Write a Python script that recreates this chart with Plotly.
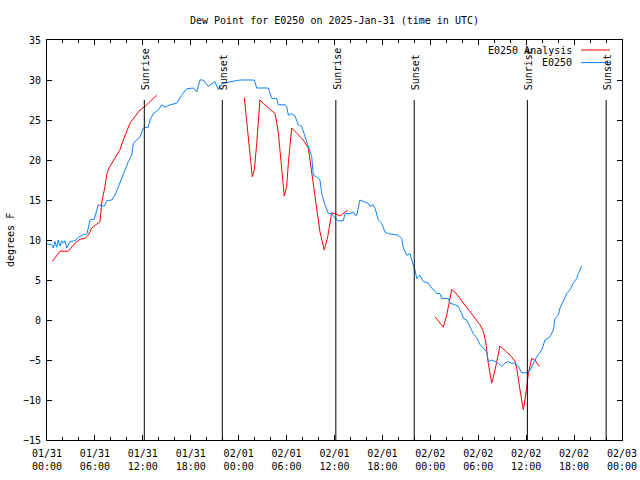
import pandas as pd
import plotly.graph_objects as go

BASE = pd.Timestamp("2025-01-31 00:00")

# E0250 observations: hours after 01/31 00:00 UTC, dew point (F)
obs_hours = [0.0, 0.59, 0.79, 1.0, 1.21, 1.41, 1.63, 1.84, 2.04, 2.25, 2.47, 2.88, 3.51, 3.92,
             4.55, 4.97, 5.17, 5.38, 5.92, 6.22, 6.42, 6.85, 7.18, 7.48, 8.1, 8.51, 8.93, 9.35,
             9.77, 10.18, 10.61, 10.81, 11.65, 12.06, 12.68, 12.9, 13.31, 13.94, 14.36, 14.78,
             15.4, 16.24, 16.87, 17.49, 18.32, 18.75, 19.16, 19.57, 20.2, 21.04, 21.45, 22.0,
             23.33, 24.17, 25.96, 26.26, 27.71, 28.14, 28.76, 28.96, 29.8, 30.01, 30.22, 30.64,
             31.05, 31.47, 31.89, 32.31, 32.72, 33.15, 33.35, 33.77, 34.18, 34.4, 34.81, 35.22,
             35.65, 36.06, 36.48, 37.1, 37.32, 37.94, 38.35, 38.57, 38.78, 39.19, 39.61, 40.23,
             40.45, 40.86, 41.07, 41.49, 41.91, 42.32, 42.74, 43.99, 44.42, 44.62, 45.04, 45.45,
             45.67, 46.08, 46.29, 46.71, 47.12, 47.75, 48.17, 48.8, 49.21, 49.42, 50.25, 50.46,
             51.09, 51.5, 51.93, 52.13, 52.55, 52.97, 53.38, 53.81, 54.22, 54.63, 55.06, 55.26,
             55.68, 56.1, 56.51, 56.94, 57.35, 57.77, 58.19, 58.6, 59.02, 59.44, 60.07, 60.48,
             60.89, 61.32, 61.95, 62.36, 62.99, 63.4, 63.61, 64.03, 64.24, 64.65, 65.08, 65.49,
             65.9, 66.33, 66.53, 66.95]
obs_values = [9.5, 9.4, 9.0, 9.8, 9.1, 10.0, 9.25, 9.9, 9.6, 9.9, 9.0, 9.8, 9.9, 10.3,
              10.7, 10.7, 11.5, 12.5, 12.6, 13.75, 14.4, 14.25, 14.25, 14.9, 15.0, 15.6, 16.7, 17.9,
              18.75, 19.8, 20.6, 22.1, 22.9, 24.0, 24.1, 25.0, 25.8, 26.25, 26.9, 26.6,
              26.9, 27.1, 28.1, 28.9, 29.0, 28.5, 30.0, 30.0, 29.2, 29.8, 28.8, 29.6,
              29.8, 30.0, 30.0, 29.0, 29.0, 27.7, 27.7, 26.9, 26.9, 26.7, 25.6, 25.8,
              25.5, 24.4, 24.2, 22.9, 21.9, 20.4, 18.1, 17.9, 17.5, 15.8, 14.4, 13.3,
              13.3, 12.7, 12.4, 12.4, 13.3, 13.3, 13.5, 13.1, 13.1, 15.0, 14.8, 14.6,
              14.2, 14.4, 14.0, 12.5, 12.1, 11.0, 10.8, 10.6, 10.2, 9.0, 8.1, 8.3,
              7.5, 6.25, 5.2, 5.6, 4.8, 4.6, 4.0, 3.3, 3.3, 2.7, 2.7, 2.1,
              1.9, 1.7, 0.8, 0.2, 0.0, -0.8, -1.7, -2.2, -3.1, -3.5, -4.0, -5.2,
              -5.0, -5.2, -5.4, -5.8, -5.4, -5.2, -5.4, -5.4, -5.8, -6.6, -6.6, -6.3,
              -5.4, -4.6, -3.75, -2.5, -2.1, -1.25, 0.2, 0.6, 1.5, 2.3, 3.3, 3.75,
              4.6, 5.2, 5.8, 6.75]

# E0250 Analysis: three separate runs
ana1_hours = [0.66, 1.63, 2.67, 3.51, 4.13, 4.76, 5.17, 5.6, 6.64, 6.85, 7.26, 7.48, 7.76,
              8.3, 8.73, 9.14, 9.55, 10.39, 10.81, 11.65, 12.27, 12.9, 13.74]
ana1_values = [7.3, 8.6, 8.6, 9.6, 10.1, 10.2, 10.6, 11.5, 12.3, 14.6, 16.7, 18.2, 19.0,
               19.8, 20.6, 21.3, 22.5, 24.6, 25.2, 26.25, 26.7, 27.3, 28.1]
ana2_hours = [24.71, 25.21, 25.51, 25.71, 25.96, 26.26, 26.67, 27.51, 28.55, 28.96, 29.39,
              29.71, 30.01, 30.22, 30.64, 31.47, 32.1, 32.72, 32.93, 33.35, 33.77, 34.18,
              34.72, 35.15, 35.65, 36.06, 36.69, 37.1, 37.65]
ana2_values = [27.8, 23.3, 19.8, 17.9, 18.75, 22.1, 27.5, 26.7, 25.8, 23.5, 19.2,
               15.5, 16.7, 19.6, 24.0, 23.1, 22.5, 21.5, 20.0, 16.7, 13.3, 11.0,
               8.75, 10.4, 13.4, 13.3, 13.0, 13.3, 13.75]
ana3_hours = [48.59, 49.62, 50.05, 50.68, 51.09, 51.72, 52.35, 53.18, 53.81, 54.22, 54.63,
              54.93, 55.26, 55.68, 56.1, 56.51, 56.72, 57.56, 58.19, 58.6, 58.81, 59.23,
              59.64, 59.85, 60.07, 60.28, 60.69, 61.1, 61.64]
ana3_values = [0.4, -0.9, 0.6, 3.8, 3.5, 2.7, 1.9, 0.8, 0.0, -0.6, -1.4,
               -2.7, -5.4, -7.9, -6.25, -4.2, -3.25, -4.0, -4.6, -5.2, -6.0, -8.75,
               -11.2, -10.0, -8.3, -6.7, -4.8, -5.0, -5.8]

sun_times = ["2025-01-31 12:11", "2025-01-31 21:57", "2025-02-01 12:10",
             "2025-02-01 21:59", "2025-02-02 12:09", "2025-02-02 22:01"]
sun_labels = ["Sunrise", "Sunset", "Sunrise", "Sunset", "Sunrise", "Sunset"]

tick_times = pd.date_range("2025-01-31 00:00", "2025-02-03 00:00", freq="6h")
tick_labels = [t.strftime("%m/%d") + "<br>" + t.strftime("%H:%M") for t in tick_times]
y_ticks = list(range(-15, 36, 5))

def to_time(hours):
    return BASE + pd.to_timedelta(hours, unit="h")

ana_x, ana_y = [], []
for hrs, vals in [(ana1_hours, ana1_values), (ana2_hours, ana2_values), (ana3_hours, ana3_values)]:
    ana_x += list(to_time(hrs)) + [None]
    ana_y += list(vals) + [None]

FONT = "DejaVu Sans Mono"
RED = "#ff0000"
BLUE = "#0a84ff"

W, H = 640, 480

fig = go.Figure()
fig.add_trace(go.Scatter(x=ana_x, y=ana_y, mode="lines", line=dict(color=RED, width=1),
                         connectgaps=False, showlegend=False, name="E0250 Analysis"))
fig.add_trace(go.Scatter(x=to_time(obs_hours), y=obs_values, mode="lines",
                         line=dict(color=BLUE, width=1), showlegend=False, name="E0250"))

for t, lab in zip(sun_times, sun_labels):
    fig.add_shape(type="line", xref="x", yref="y domain", x0=t, x1=t, y0=0, y1=0.85,
                  line=dict(color="black", width=1))
    fig.add_annotation(x=t, xref="x", y=0.87, yref="y domain", text=lab, textangle=-90,
                       showarrow=False, xanchor="center", yanchor="bottom", xshift=1,
                       font=dict(family=FONT, size=10, color="black"))

# legend (key) drawn gnuplot-style
for i, (lab, col) in enumerate([("E0250 Analysis", RED), ("E0250", BLUE)]):
    yy = 0.975 - i * 0.0315
    fig.add_annotation(x=0.9165, xref="paper", y=yy, yref="paper", text=lab, showarrow=False,
                       xanchor="right", yanchor="middle",
                       font=dict(family=FONT, size=10, color="black"))
    fig.add_shape(type="line", xref="paper", yref="paper", x0=0.9287, x1=0.979, y0=yy, y1=yy,
                  line=dict(color=col, width=1))

fig.add_annotation(x=-0.0643, xref="paper", y=0.5, yref="paper", text="degrees F",
                   textangle=-90, showarrow=False, xanchor="center", yanchor="middle",
                   font=dict(family=FONT, size=10, color="black"))

fig.update_layout(
    width=W, height=H,
    margin=dict(l=47, r=18, t=40, b=40, autoexpand=False),
    paper_bgcolor="white", plot_bgcolor="white",
    font=dict(family=FONT, size=10, color="black"),
    title=dict(text="Dew Point for E0250 on 2025-Jan-31 (time in UTC)", x=0.5, xref="paper",
               y=1 - 20 / H, yref="container", xanchor="center", yanchor="middle",
               font=dict(family=FONT, size=10, color="black")),
    showlegend=False,
)
fig.update_xaxes(type="date", range=[tick_times[0], tick_times[-1]], automargin=False,
                 tickmode="array", tickvals=tick_times, ticktext=tick_labels,
                 ticks="inside", ticklen=5, tickcolor="black", tickwidth=1,
                 showline=True, linecolor="black", linewidth=1, mirror="allticks",
                 showgrid=False, zeroline=False, ticklabelstandoff=4,
                 minor=dict(dtick=2 * 3600 * 1000, ticks="inside", ticklen=3,
                            tickcolor="black", showgrid=False))
fig.update_yaxes(range=[-15, 35], tickmode="array", tickvals=y_ticks, automargin=False,
                 ticks="inside", ticklen=5, tickcolor="black", tickwidth=1,
                 showline=True, linecolor="black", linewidth=1, mirror="allticks",
                 showgrid=False, zeroline=False, ticklabelstandoff=3)

fig.write_html("out.html", config={"displayModeBar": False},
               post_script="document.body.style.margin='0';document.body.style.overflow='hidden';")
